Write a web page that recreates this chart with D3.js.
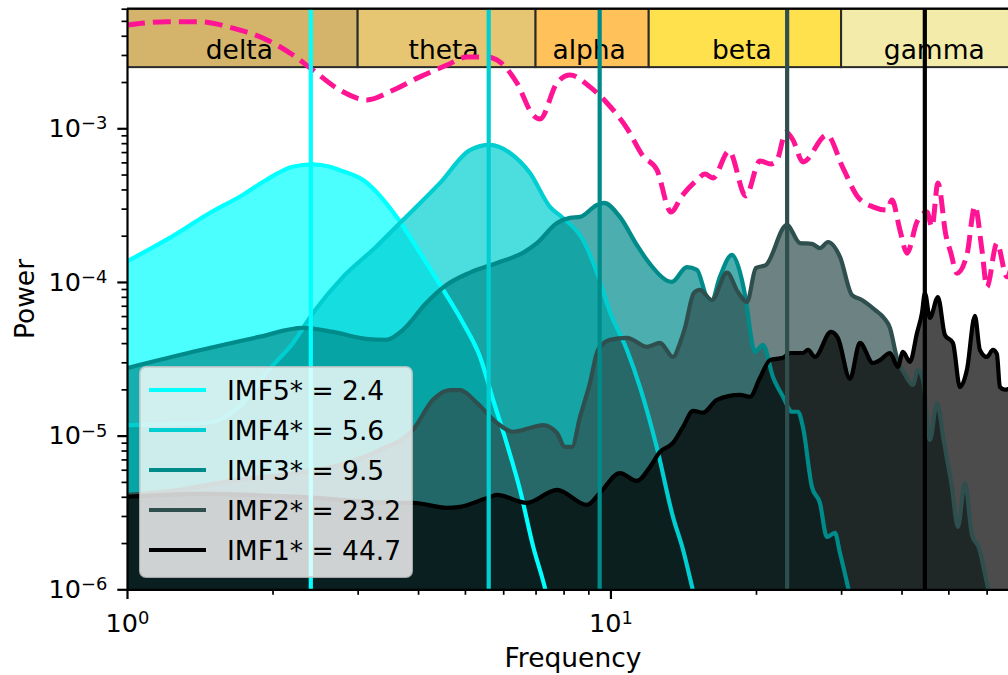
<!DOCTYPE html>
<html>
<head>
<meta charset="utf-8">
<script src="https://d3js.org/d3.v7.min.js"></script>
<style>
body { margin: 0; background: #ffffff; }
svg { display: block; font-family: "DejaVu Sans", sans-serif; }
</style>
</head>
<body>
<svg id="drawing_region"></svg>
<script>
// frequency bands drawn along the top of the axes
const bandNames = ['delta', 'theta', 'alpha', 'beta', 'gamma'];
const bandEdges = [1, 3, 7, 12, 30, 75];

// IMF labels and their peak frequencies (vertical lines)
const imfNames = ['IMF5*', 'IMF4*', 'IMF3*', 'IMF2*', 'IMF1*'];
const imfPeaks = [2.4, 5.6, 9.5, 23.2, 44.7];

// power spectra
const imf5Freq  = [1.0, 1.22, 1.48, 1.735, 1.94, 2.20, 2.42, 2.63, 2.75, 3.08, 3.61, 4.04, 4.51, 4.96, 5.37, 5.72, 6.10, 6.50, 6.92, 7.32, 7.6];
const imf5Power = [1.36e-4, 1.92e-4, 2.80e-4, 3.68e-4, 4.61e-4, 5.62e-4, 5.83e-4, 5.62e-4, 5.35e-4, 4.61e-4, 2.66e-4, 1.54e-4, 8.87e-5, 5.38e-5, 3.27e-5, 1.71e-5, 8.93e-6, 4.44e-6, 1.90e-6, 1.02e-6, 6.0e-7];

const imf4Freq  = [1.0, 1.457, 1.738, 1.966, 2.204, 2.425, 2.798, 3.273, 3.723, 4.442, 5.122, 5.634, 6.197, 6.816, 7.497, 7.976, 8.772, 9.378, 9.977, 10.82, 11.51, 12.48, 13.47, 14.13, 14.75, 15.31];
const imf4Power = [1.17e-5, 1.21e-5, 1.63e-5, 2.68e-5, 4.01e-5, 6.28e-5, 1.08e-4, 1.69e-4, 2.53e-4, 4.41e-4, 7.22e-4, 7.79e-4, 6.91e-4, 5.12e-4, 3.08e-4, 2.61e-4, 1.88e-4, 1.15e-4, 6.38e-5, 3.61e-5, 2.07e-5, 8.31e-6, 2.96e-6, 1.81e-6, 1.04e-6, 6.3e-7];

const imf3Freq  = [1.0, 1.369, 1.875, 2.312, 2.667, 3.121, 3.434, 3.723, 4.159, 4.579, 5.122, 5.825, 6.592, 7.047, 7.750, 8.247, 8.649, 9.378, 9.697, 10.46, 11.34, 12.07, 13.40, 14.39, 15.10, 15.83, 16.21, 16.84, 17.84, 18.53, 19.16, 19.44, 19.90, 20.67, 21.69, 22.75, 23.74, 24.43, 25.01, 26.11, 27.12, 28.04, 29.13, 29.83, 30.99, 32.04];
const imf3Power = [2.75e-5, 3.51e-5, 4.39e-5, 5.02e-5, 4.73e-5, 4.26e-5, 4.20e-5, 4.88e-5, 7.30e-5, 9.55e-5, 1.15e-4, 1.33e-4, 1.55e-4, 1.79e-4, 2.42e-4, 2.61e-4, 2.65e-4, 3.17e-4, 3.27e-4, 2.65e-4, 1.74e-4, 1.31e-4, 1.00e-4, 1.25e-4, 1.20e-4, 7.98e-5, 7.63e-5, 1.08e-4, 1.50e-4, 1.16e-4, 6.87e-5, 4.88e-5, 3.51e-5, 3.89e-5, 2.41e-5, 1.79e-5, 1.43e-5, 1.43e-5, 1.14e-5, 4.64e-6, 3.65e-6, 2.19e-6, 2.33e-6, 1.73e-6, 1.04e-6, 6.3e-7];

const imf2Freq  = [1.0, 1.287, 1.633, 2.174, 2.758, 3.337, 3.905, 4.295, 4.656, 4.884, 5.296, 5.825, 6.286, 6.816, 7.251, 7.750, 8.052, 8.325, 8.649, 9.070, 9.422, 9.977, 10.82, 11.90, 12.66, 13.47, 13.93, 14.26, 14.88, 15.31, 16.21, 17.42, 18.35, 19.16, 19.99, 20.97, 23.17, 24.66, 26.11, 27.12, 28.18, 29.83, 31.59, 33.13, 35.25, 36.79, 37.86, 39.14, 40.65, 42.23, 43.25, 44.30, 45.80, 47.35, 48.96, 50.85, 52.33, 54.11, 55.94, 57.84, 60.08, 62.40];
const imf2Power = [4.11e-6, 4.44e-6, 5.07e-6, 5.64e-6, 6.44e-6, 8.07e-6, 1.09e-5, 1.71e-5, 1.98e-5, 1.98e-5, 1.63e-5, 1.21e-5, 1.06e-5, 1.12e-5, 1.17e-5, 1.04e-5, 8.44e-6, 8.44e-6, 1.32e-5, 2.20e-5, 3.61e-5, 4.20e-5, 4.33e-5, 3.78e-5, 4.01e-5, 3.25e-5, 4.01e-5, 5.02e-5, 8.47e-5, 8.87e-5, 7.63e-5, 1.15e-4, 8.61e-5, 7.41e-5, 1.23e-4, 1.29e-4, 2.35e-4, 1.79e-4, 1.77e-4, 1.66e-4, 1.82e-4, 1.46e-4, 8.22e-5, 7.63e-5, 6.58e-5, 5.83e-5, 5.02e-5, 3.20e-5, 2.50e-5, 2.14e-5, 2.68e-5, 2.30e-5, 9.38e-6, 1.63e-5, 9.10e-6, 4.64e-6, 2.55e-6, 4.92e-6, 2.26e-6, 1.86e-6, 1.10e-6, 6.3e-7];

const imf1Freq  = [1.0, 1.416, 2.279, 3.583, 3.905, 4.590, 4.884, 5.634, 5.825, 6.720, 7.750, 8.943, 9.513, 10.46, 11.34, 12.07, 12.66, 13.47, 14.13, 14.82, 15.54, 16.61, 18.53, 19.44, 20.38, 21.38, 22.75, 23.52, 25.01, 25.62, 26.49, 28.58, 29.54, 31.29, 32.81, 34.91, 36.10, 37.86, 39.32, 40.27, 41.64, 43.06, 44.09, 44.72, 45.80, 47.58, 49.19, 51.10, 52.84, 54.62, 56.74, 58.11, 60.08, 61.81, 63.01, 63.91, 65.46, 68.65];
const imf1Power = [3.99e-6, 4.18e-6, 3.99e-6, 3.65e-6, 3.65e-6, 3.39e-6, 3.44e-6, 3.99e-6, 4.11e-6, 3.65e-6, 4.44e-6, 3.54e-6, 4.24e-6, 5.71e-6, 5.07e-6, 6.25e-6, 7.83e-6, 8.96e-6, 1.14e-5, 1.45e-5, 1.41e-5, 1.71e-5, 1.84e-5, 1.79e-5, 2.37e-5, 3.10e-5, 3.21e-5, 3.45e-5, 3.45e-5, 3.61e-5, 3.25e-5, 4.73e-5, 4.33e-5, 2.34e-5, 4.01e-5, 2.97e-5, 3.10e-5, 3.45e-5, 2.80e-5, 3.51e-5, 3.02e-5, 4.66e-5, 6.28e-5, 8.47e-5, 5.83e-5, 7.98e-5, 4.52e-5, 4.01e-5, 2.07e-5, 2.68e-5, 6.01e-5, 3.61e-5, 3.25e-5, 3.61e-5, 3.40e-5, 2.07e-5, 1.99e-5, 2.14e-5];

// total spectrum (dashed)
const totalFreq  = [1.0, 1.210, 1.416, 1.657, 1.948, 2.204, 2.425, 2.758, 3.136, 3.549, 4.036, 4.590, 5.050, 5.554, 5.908, 6.407, 6.915, 7.150, 7.750, 8.247, 9.070, 9.835, 10.82, 11.67, 12.48, 13.34, 14.06, 15.10, 15.68, 16.29, 17.59, 19.06, 20.38, 21.48, 22.11, 23.07, 23.85, 25.01, 28.04, 30.26, 32.50, 34.91, 37.32, 38.21, 39.70, 41.06, 43.06, 45.15, 46.24, 47.58, 49.41, 50.61, 52.09, 54.62, 56.74, 58.67, 60.08, 63.01, 66.09, 68.65];
const totalPower = [4.70e-3, 4.94e-3, 4.94e-3, 4.48e-3, 3.76e-3, 3.00e-3, 2.39e-3, 1.77e-3, 1.53e-3, 1.77e-3, 2.16e-3, 2.58e-3, 2.91e-3, 2.91e-3, 2.70e-3, 1.97e-3, 1.22e-3, 1.15e-3, 1.97e-3, 2.22e-3, 1.86e-3, 1.46e-3, 1.00e-3, 6.61e-4, 5.36e-4, 2.85e-4, 3.63e-4, 4.61e-4, 5.04e-4, 4.75e-4, 7.11e-4, 3.63e-4, 6.13e-4, 5.86e-4, 6.22e-4, 9.46e-4, 8.39e-4, 6.04e-4, 9.04e-4, 5.52e-4, 3.57e-4, 3.08e-4, 2.94e-4, 3.42e-4, 2.18e-4, 1.54e-4, 2.46e-4, 2.85e-4, 2.28e-4, 4.41e-4, 2.02e-4, 1.54e-4, 1.14e-4, 1.50e-4, 3.12e-4, 1.62e-4, 9.28e-5, 1.79e-4, 1.08e-4, 1.62e-4];

const xTicks = [1, 10];
const yTicks = [1e-6, 1e-5, 1e-4, 1e-3];
const xDomain = [1, 70];
const yDomain = [1e-6, 6e-3];
const bandBottom = 2.5e-3;

// styles
const imfColors = ['#00ffff', '#00ced1', '#008b8b', '#2f4f4f', '#000000'];
const bandColors = ['#d4b46a', '#e6c672', '#ffc15a', '#ffe04d', '#f3ebaa'];
const totalColor = '#ff1493';

class PsdChart {

    constructor( config ) {
        this.config = {
            parent: config.parent,
            width: config.width || 1008,
            height: config.height || 675,
            margin: config.margin,
            plot_width: config.plot_width,
            plot_height: config.plot_height,
            font_size: config.font_size || 25,
            label_size: config.label_size || 26,
            legend_size: config.legend_size || 26,
            xlabel: config.xlabel,
            ylabel: config.ylabel
        };
        const freqs = [imf5Freq, imf4Freq, imf3Freq, imf2Freq, imf1Freq];
        const powers = [imf5Power, imf4Power, imf3Power, imf2Power, imf1Power];
        this.series = imfNames.map( (name, i) => ({
            name: name,
            peak: imfPeaks[i],
            color: imfColors[i],
            points: freqs[i].map( (f, j) => ({ f: f, p: powers[i][j] }) )
        }));
        this.total = totalFreq.map( (f, j) => ({ f: f, p: totalPower[j] }) );
        this.init();
    }

    init() {
        let self = this;

        self.svg = d3.select( self.config.parent )
            .attr('width', self.config.width)
            .attr('height', self.config.height);

        self.inner_width = self.config.plot_width;
        self.inner_height = self.config.plot_height;

        self.chart = self.svg.append('g')
            .attr('transform', `translate(${self.config.margin.left}, ${self.config.margin.top})`);

        self.svg.append('defs').append('clipPath')
            .attr('id', 'plot_clip')
            .append('rect')
            .attr('width', self.inner_width)
            .attr('height', self.inner_height);

        self.xscale = d3.scaleLog()
            .domain( xDomain )
            .range( [0, self.inner_width] );

        self.yscale = d3.scaleLog()
            .domain( yDomain )
            .range( [self.inner_height, 0] );

        self.plot = self.chart.append('g')
            .attr('clip-path', 'url(#plot_clip)');
    }

    render() {
        let self = this;

        const area = d3.area()
            .x( d => self.xscale(d.f) )
            .y0( self.inner_height + 40 )
            .y1( d => self.yscale(d.p) )
            .curve( d3.curveMonotoneX );

        const line = d3.line()
            .x( d => self.xscale(d.f) )
            .y( d => self.yscale(d.p) )
            .curve( d3.curveMonotoneX );

        // filled spectra
        self.plot.selectAll('.fill')
            .data(self.series)
            .enter()
            .append('path')
            .attr('class', 'fill')
            .attr('d', d => area(d.points))
            .attr('fill', d => d.color)
            .attr('fill-opacity', 0.7);

        // band boxes
        const bands = bandNames.map( (name, i) => ({ name: name, lo: bandEdges[i], hi: bandEdges[i + 1], color: bandColors[i] }) );
        const bandTop = self.yscale( yDomain[1] );
        const bandBot = self.yscale( bandBottom );

        self.plot.selectAll('.band')
            .data(bands)
            .enter()
            .append('rect')
            .attr('class', 'band')
            .attr('x', d => self.xscale(d.lo))
            .attr('y', bandTop)
            .attr('width', d => self.xscale(d.hi) - self.xscale(d.lo))
            .attr('height', bandBot - bandTop)
            .attr('fill', d => d.color)
            .attr('stroke', '#2a2a2a')
            .attr('stroke-width', 2);

        self.plot.selectAll('.band_label')
            .data(bands)
            .enter()
            .append('text')
            .attr('class', 'band_label')
            .attr('x', d => self.xscale(Math.sqrt(d.lo * d.hi)) - 3)
            .attr('y', bandBot - 8)
            .attr('text-anchor', 'middle')
            .style('font-size', self.config.label_size + 'px')
            .text(d => d.name);

        // spectrum outlines
        self.plot.selectAll('.curve')
            .data(self.series)
            .enter()
            .append('path')
            .attr('class', 'curve')
            .attr('d', d => line(d.points))
            .attr('fill', 'none')
            .attr('stroke', d => d.color)
            .attr('stroke-width', 4.2)
            .attr('stroke-linejoin', 'round');

        self.plot.append('path')
            .attr('d', line(self.total))
            .attr('fill', 'none')
            .attr('stroke', totalColor)
            .attr('stroke-width', 5)
            .attr('stroke-dasharray', '18,8');

        // peak frequency markers
        self.plot.selectAll('.peak')
            .data(self.series)
            .enter()
            .append('line')
            .attr('class', 'peak')
            .attr('x1', d => self.xscale(d.peak))
            .attr('x2', d => self.xscale(d.peak))
            .attr('y1', 0)
            .attr('y2', self.inner_height)
            .attr('stroke', d => d.color)
            .attr('stroke-width', 4.2);

        self.renderAxes();
        self.renderLegend();
    }

    renderAxes() {
        let self = this;
        const fs = self.config.font_size;
        const sup = d => {
            const e = Math.round(Math.log10(d));
            return (e < 0 ? '\u2212' : '') + Math.abs(e);
        };
        const powerLabel = function(d) {
            const t = d3.select(this).text('');
            t.append('tspan').text('10');
            t.append('tspan')
                .attr('dy', '-0.42em')
                .style('font-size', (fs * 0.7) + 'px')
                .text(sup(d));
        };

        const xMinor = self.xscale.ticks().filter( v => xTicks.indexOf(v) < 0 );
        const yMinor = self.yscale.ticks().filter( v => yTicks.indexOf(v) < 0 );

        const xaxis_minor = self.chart.append('g')
            .attr('transform', `translate(0, ${self.inner_height})`)
            .call( d3.axisBottom(self.xscale).tickValues(xMinor).tickSize(5.5).tickFormat('') );
        const yaxis_minor = self.chart.append('g')
            .call( d3.axisLeft(self.yscale).tickValues(yMinor).tickSize(5.5).tickFormat('') );
        [xaxis_minor, yaxis_minor].forEach( g => {
            g.select('.domain').remove();
            g.selectAll('line').attr('stroke-width', 1.7);
        });

        self.xaxis_group = self.chart.append('g')
            .attr('transform', `translate(0, ${self.inner_height})`)
            .call( d3.axisBottom(self.xscale).tickValues(xTicks).tickSize(9.7).tickPadding(10).tickSizeOuter(0) );
        self.xaxis_group.selectAll('.tick text')
            .attr('dy', '0.9em')
            .each(powerLabel);

        self.yaxis_group = self.chart.append('g')
            .call( d3.axisLeft(self.yscale).tickValues(yTicks).tickSize(9.7).tickPadding(10).tickSizeOuter(0) );
        self.yaxis_group.selectAll('.tick text')
            .each(powerLabel);

        [self.xaxis_group, self.yaxis_group].forEach( g => {
            g.attr('font-size', null).attr('font-family', null)
                .style('font-size', fs + 'px');
            g.selectAll('text').attr('fill', '#000');
            g.selectAll('line').attr('stroke-width', 2.2);
            g.select('.domain').attr('stroke-width', 2.2);
        });

        // top spine
        self.chart.append('line')
            .attr('x1', 0)
            .attr('x2', self.inner_width)
            .attr('y1', 0)
            .attr('y2', 0)
            .attr('stroke', '#000')
            .attr('stroke-width', 2.2);

        self.svg.append('text')
            .attr('x', self.config.margin.left + self.inner_width / 2)
            .attr('y', 667)
            .attr('text-anchor', 'middle')
            .style('font-size', self.config.label_size + 'px')
            .text(self.config.xlabel);

        self.svg.append('text')
            .attr('transform', 'rotate(-90)')
            .attr('x', -(self.config.margin.top + self.inner_height / 2))
            .attr('y', 34)
            .attr('text-anchor', 'middle')
            .style('font-size', self.config.label_size + 'px')
            .text(self.config.ylabel);
    }

    renderLegend() {
        let self = this;
        const ls = self.config.legend_size;

        const legend = self.svg.append('g')
            .attr('transform', 'translate(140, 367)');

        legend.append('rect')
            .attr('width', 272)
            .attr('height', 210)
            .attr('rx', 6)
            .attr('fill', '#ffffff')
            .attr('fill-opacity', 0.8)
            .attr('stroke', '#cccccc')
            .attr('stroke-opacity', 0.8)
            .attr('stroke-width', 2);

        const rows = legend.selectAll('.row')
            .data(self.series)
            .enter()
            .append('g')
            .attr('class', 'row')
            .attr('transform', (d, i) => `translate(0, ${23 + i * 40})`);

        rows.append('line')
            .attr('x1', 9)
            .attr('x2', 66)
            .attr('stroke', d => d.color)
            .attr('stroke-width', 4.2);

        rows.append('text')
            .attr('x', 87)
            .attr('y', ls * 0.36)
            .style('font-size', ls + 'px')
            .text(d => `${d.name} = ${d.peak}`);
    }
}

const chart = new PsdChart({
    parent: '#drawing_region',
    width: 1008,
    height: 675,
    margin: {top: 8.7, left: 127},
    plot_width: 892,
    plot_height: 580.6,
    font_size: 25.5,
    label_size: 26.5,
    legend_size: 26.5,
    xlabel: 'Frequency',
    ylabel: 'Power'
});
chart.render();
</script>
</body>
</html>
